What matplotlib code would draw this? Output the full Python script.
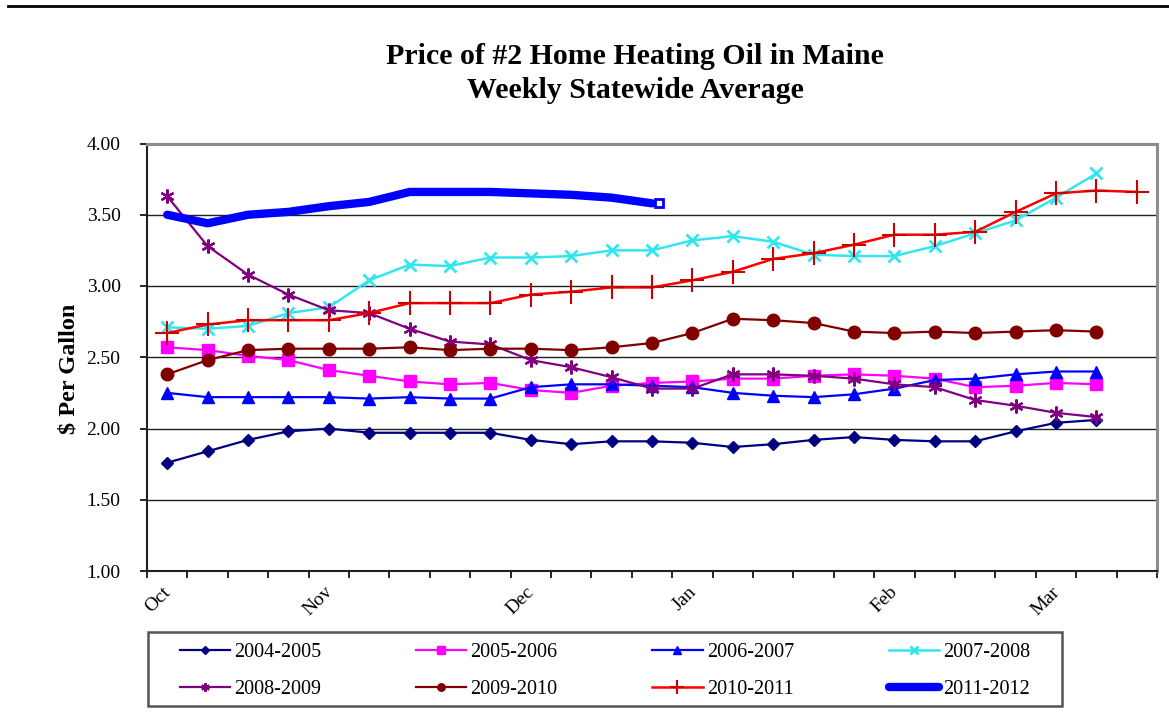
import matplotlib
matplotlib.use("Agg")
import matplotlib.pyplot as plt
from matplotlib.lines import Line2D
from matplotlib.patches import Rectangle
from matplotlib.transforms import ScaledTranslation
import numpy as np

plt.rcParams['font.family'] = ['Liberation Serif', 'DejaVu Serif']

# ---- data ----
month_labels = ['Oct', 'Nov', 'Dec', 'Jan', 'Feb', 'Mar']
month_pos = [0, 4, 9, 13, 18, 22]
n_weeks = 25

series_names = ['2004-2005', '2005-2006', '2006-2007', '2007-2008',
                '2008-2009', '2009-2010', '2010-2011', '2011-2012']

s0405 = [1.76, 1.84, 1.92, 1.98, 2.00, 1.97, 1.97, 1.97, 1.97, 1.92, 1.89, 1.91,
         1.91, 1.90, 1.87, 1.89, 1.92, 1.94, 1.92, 1.91, 1.91, 1.98, 2.04, 2.06]
s0506 = [2.57, 2.55, 2.51, 2.48, 2.41, 2.37, 2.33, 2.31, 2.32, 2.27, 2.25, 2.30,
         2.32, 2.33, 2.35, 2.35, 2.37, 2.38, 2.37, 2.35, 2.29, 2.30, 2.32, 2.31]
s0607 = [2.25, 2.22, 2.22, 2.22, 2.22, 2.21, 2.22, 2.21, 2.21, 2.29, 2.31, 2.31,
         2.30, 2.29, 2.25, 2.23, 2.22, 2.24, 2.28, 2.34, 2.35, 2.38, 2.40, 2.40]
s0708 = [2.71, 2.70, 2.72, 2.81, 2.85, 3.04, 3.15, 3.14, 3.20, 3.20, 3.21, 3.25,
         3.25, 3.32, 3.35, 3.31, 3.22, 3.21, 3.21, 3.28, 3.37, 3.46, 3.62, 3.79]
s0809 = [3.63, 3.28, 3.08, 2.94, 2.83, 2.81, 2.70, 2.61, 2.59, 2.48, 2.43, 2.36,
         2.28, 2.28, 2.38, 2.38, 2.37, 2.35, 2.31, 2.29, 2.20, 2.16, 2.11, 2.08]
s0910 = [2.38, 2.48, 2.55, 2.56, 2.56, 2.56, 2.57, 2.55, 2.56, 2.56, 2.55, 2.57,
         2.60, 2.67, 2.77, 2.76, 2.74, 2.68, 2.67, 2.68, 2.67, 2.68, 2.69, 2.68]
s1011 = [2.67, 2.73, 2.76, 2.76, 2.76, 2.81, 2.88, 2.88, 2.88, 2.94, 2.96, 2.99,
         2.99, 3.04, 3.10, 3.19, 3.23, 3.29, 3.36, 3.36, 3.38, 3.52, 3.65, 3.67, 3.66]
s1112 = [3.50, 3.44, 3.50, 3.52, 3.56, 3.59, 3.66, 3.66, 3.66, 3.65, 3.64, 3.62, 3.58]

y_ticks = [1.00, 1.50, 2.00, 2.50, 3.00, 3.50, 4.00]

# ---- figure ----
W, H = 1169, 713
fig = plt.figure(figsize=(W / 100, H / 100), dpi=100)
ax = fig.add_axes([147 / W, 1 - 571 / H, (1157 - 147) / W, (571 - 143.5) / H])

styles = [
    dict(color='#000080', marker='D', ms=6.5, mfc='#000080', mec='#000080', lw=1.6),
    dict(color='#FF00FF', marker='s', ms=9, mfc='#FF00FF', mec='#FF00FF', lw=1.6),
    dict(color='#0000FF', marker='^', ms=9, mfc='#0000FF', mec='#0000FF', lw=1.6),
    dict(color='#33E6EE', marker='x', ms=9, mec='#33E6EE', mew=2.0, lw=1.8),
    dict(color='#800080', marker=(6, 2, 0), ms=10, mec='#800080', mew=1.6, lw=1.6),
    dict(color='#800000', marker='o', ms=9, mfc='#800000', mec='#800000', lw=1.6),
    dict(color='#FF0000', marker='+', ms=17, mec='#CC0000', mew=1.5, lw=1.8),
]
data = [s0405, s0506, s0607, s0708, s0809, s0910, s1011]

handles = []
for name, vals, st in zip(series_names[:7], data, styles):
    x = np.arange(len(vals))
    ln, = ax.plot(x, vals, label=name, zorder=3, **st)
    handles.append(ln)

x12 = np.arange(len(s1112))
ln12, = ax.plot(x12, s1112, color='#0000FF', lw=6, solid_capstyle='round',
                solid_joinstyle='round', label=series_names[7], zorder=4)
ax.plot(x12[-1:] + 0.17, s1112[-1:], marker='s', ms=6, mfc='white', mec='#0000FF',
        mew=2, ls='none', zorder=5)
handles.append(ln12)

# axes formatting
ax.set_xlim(-0.5, n_weeks - 0.5)
ax.set_ylim(1.0, 4.0)
ax.set_yticks(y_ticks)
ax.set_yticklabels([f'{v:.2f}' for v in y_ticks], fontsize=14)
ax.yaxis.grid(True, color='#202020', lw=1.0)
ax.set_axisbelow(True)

ax.set_xticks(month_pos)
ax.set_xticklabels(month_labels, fontsize=14, rotation=45, ha='right')
ax.set_xticks(np.arange(-0.5, n_weeks, 1.0), minor=True)
ax.tick_params(axis='x', which='major', length=0, pad=9)
ax.tick_params(axis='x', which='minor', length=5, width=1.2, direction='out', color='black')
ax.tick_params(axis='y', which='major', length=5, width=1.2, direction='out', pad=14)
offset = ScaledTranslation(7 / 100, 0, fig.dpi_scale_trans)
for lbl in ax.get_xticklabels():
    lbl.set_transform(lbl.get_transform() + offset)

for side in ['left', 'bottom']:
    ax.spines[side].set_color('#202020')
    ax.spines[side].set_linewidth(1.5)
for side in ['top', 'right']:
    ax.spines[side].set_color('#8c8c8c')
    ax.spines[side].set_linewidth(2.2)

ax.set_ylabel('$ Per Gallon', fontsize=17.5, fontweight='bold')
ax.yaxis.set_label_coords((79 - 147) / 1010, (571 - 368.5) / 427.5)

# title
fig.text(635 / W, 1 - 56 / H, 'Price of #2 Home Heating Oil in Maine',
         ha='center', va='center', fontsize=21.5, fontweight='bold')
fig.text(635 / W, 1 - 90 / H, 'Weekly Statewide Average',
         ha='center', va='center', fontsize=21.5, fontweight='bold')

# top rule line
fig.add_artist(Line2D([8 / W, 1.0], [1 - 6 / H, 1 - 6 / H], color='black', lw=2))

# legend frame
fig.add_artist(Rectangle((148 / W, 1 - 706 / H), (1062 - 148) / W, (706 - 632) / H,
                         transform=fig.transFigure, facecolor='white',
                         edgecolor='#555555', lw=1.8, zorder=1))

# legend (row-wise order for 4 columns x 2 rows)
order = [0, 4, 1, 5, 2, 6, 3, 7]
leg = fig.legend(handles=[handles[i] for i in order],
                 labels=[series_names[i] for i in order], ncol=4,
                 loc='center', bbox_to_anchor=(605 / W, 1 - 671 / H),
                 fontsize=14.5, frameon=False,
                 handlelength=2.5, handletextpad=0.2, labelspacing=0.9,
                 columnspacing=4.7, borderpad=0, markerscale=0.6, borderaxespad=0)
leg.set_zorder(2)

fig.savefig('out.png', dpi=100)
